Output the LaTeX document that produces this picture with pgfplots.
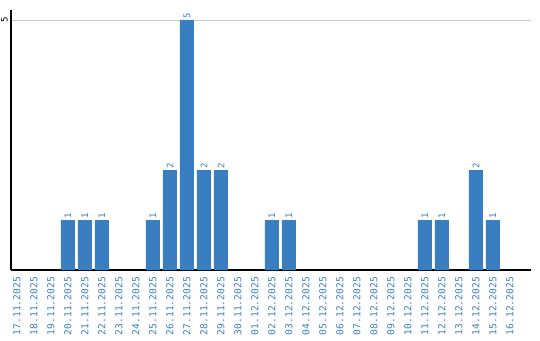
\documentclass[border=0pt]{standalone}
\usepackage{fontspec}
\setmainfont{DejaVu Sans Mono}
\usepackage{pgfplots}
\pgfplotsset{compat=1.18}
\definecolor{barblue}{HTML}{3A7EC2}
\begin{document}
\begin{tikzpicture}
\begin{axis}[
  scale only axis,
  width=520pt, height=260pt,
  xmin=-0.35, xmax=30.24,
  ymin=0, ymax=5.2,
  axis x line*=bottom, axis y line*=left,
  axis line style={-, black, line width=1.1pt},
  major tick length=0pt,
  ytick={5},
  ymajorgrids,
  grid style={color=black!22, line width=0.8pt},
  xtick={0,...,29},
  xticklabels={17.11.2025,18.11.2025,19.11.2025,20.11.2025,21.11.2025,22.11.2025,23.11.2025,24.11.2025,25.11.2025,26.11.2025,27.11.2025,28.11.2025,29.11.2025,30.11.2025,01.12.2025,02.12.2025,03.12.2025,04.12.2025,05.12.2025,06.12.2025,07.12.2025,08.12.2025,09.12.2025,10.12.2025,11.12.2025,12.12.2025,13.12.2025,14.12.2025,15.12.2025,16.12.2025},
  xticklabel style={rotate=90, anchor=east, font=\fontsize{9.6}{10}\selectfont, text=barblue, inner sep=0pt, xshift=0pt},
  xticklabel shift=7pt,
  yticklabel style={rotate=90, anchor=south, font=\fontsize{9}{10}\selectfont, inner sep=0pt},
  yticklabel shift=3pt,
  /pgf/number format/assume math mode=true,
  ybar, bar width=14pt, bar shift=0pt,
  clip=false,
  nodes near coords,
  nodes near coords style={rotate=90, anchor=west, font=\fontsize{9}{10}\selectfont, text=barblue, inner sep=1.5pt},
]
\addplot[fill=barblue, draw=none] coordinates {
(3,1) (4,1) (5,1) (8,1) (9,2) (10,5) (11,2) (12,2) (15,1) (16,1) (24,1) (25,1) (27,2) (28,1)
};
\coordinate (bl) at (rel axis cs:0,0);
\coordinate (tr) at (rel axis cs:1,1);
\end{axis}
\pgfresetboundingbox
\path ([shift={(-11pt,-70pt)}]bl) rectangle ([shift={(9pt,10pt)}]tr);
\end{tikzpicture}
\end{document}
